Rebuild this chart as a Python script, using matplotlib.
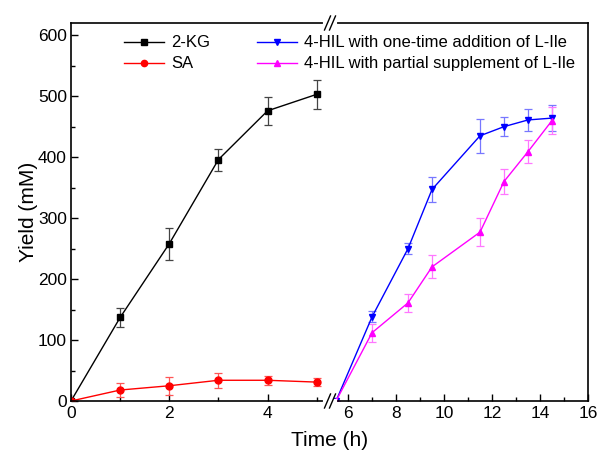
import matplotlib
matplotlib.use('Agg')
import matplotlib.pyplot as plt
from matplotlib.ticker import MultipleLocator
from matplotlib.lines import Line2D

plt.rcParams['font.family'] = ['Liberation Sans', 'DejaVu Sans']

# left segment (0-5 h)
t_left = [0, 1, 2, 3, 4, 5]
kg = [0, 137, 258, 396, 476, 503]
kg_err = [0, 15, 26, 18, 23, 24]
sa = [0, 18, 25, 34, 34, 31]
sa_err = [0, 11, 15, 12, 7, 6]

# right segment (after break)
t_right = [5.5, 7, 8.5, 9.5, 11.5, 12.5, 13.5, 14.5]
hil_once = [0, 138, 250, 347, 435, 450, 461, 464]
hil_once_err = [0, 9, 9, 21, 28, 16, 18, 21]
hil_part = [0, 112, 161, 220, 277, 360, 409, 460]
hil_part_err = [0, 15, 15, 19, 23, 20, 19, 22]

fig = plt.figure(figsize=(5.97, 4.57), dpi=100)
bot, h = 1 - 401 / 457, (401 - 23) / 457
ax1 = fig.add_axes([71 / 597, bot, (329 - 71) / 597, h])
ax2 = fig.add_axes([331 / 597, bot, (588 - 331) / 597, h])

eb = dict(capsize=3, elinewidth=0.9, capthick=0.9, lw=1, ms=5)
ax1.errorbar(t_left, kg, yerr=kg_err, color='black', marker='s', ecolor='#444444', **eb)
ax1.errorbar(t_left, sa, yerr=sa_err, color='red', marker='o', ecolor='#ff5555', **eb)
ax2.errorbar(t_right, hil_once, yerr=hil_once_err, color='blue', marker='v', ecolor='#7777ff', **eb)
ax2.errorbar(t_right, hil_part, yerr=hil_part_err, color='magenta', marker='^', ecolor='#ff77ff', **eb)

for ax in (ax1, ax2):
    ax.set_ylim(0, 620)
    ax.yaxis.set_major_locator(MultipleLocator(100))
    ax.yaxis.set_minor_locator(MultipleLocator(50))
    ax.xaxis.set_major_locator(MultipleLocator(2))
    ax.xaxis.set_minor_locator(MultipleLocator(1))
    ax.tick_params(which='major', direction='in', length=5, width=1, labelsize=12.5)
    ax.tick_params(which='minor', direction='in', length=3, width=1)
    for s in ax.spines.values():
        s.set_linewidth(1.2)

ax1.set_xlim(0, 5.25)
ax2.set_xlim(5.29, 16)
ax1.spines['right'].set_visible(False)
ax2.spines['left'].set_visible(False)
ax2.tick_params(axis='y', which='both', left=False, labelleft=False)
ax1.tick_params(axis='y', pad=3)
ax1.set_ylabel('Yield (mM)', fontsize=15, labelpad=0)
fig.text(329.5 / 597, 1 - 440 / 457, 'Time (h)', ha='center', va='center', fontsize=15)

# break marks
for yb in (23, 401):
    yf = 1 - yb / 457
    fig.add_artist(Line2D([325 / 597, 335 / 597], [yf, yf], color='white', lw=3))
    for dx in (-2.5, 2.5):
        x0 = (330 + dx - 3) / 597
        x1 = (330 + dx + 3) / 597
        fig.add_artist(Line2D([x0, x1], [yf - 7 / 457, yf + 7 / 457], color='black', lw=1))

labels = ['2-KG', 'SA', '4-HIL with one-time addition of L-Ile', '4-HIL with partial supplement of L-Ile']
colors = ['black', 'red', 'blue', 'magenta']
markers = ['s', 'o', 'v', '^']

# fit legend font so the long label is ~263 px wide like the reference
probe = fig.text(0, 0, labels[2], fontsize=12)
fig.canvas.draw()
w = probe.get_window_extent().width
probe.remove()
fs = 12 * 263 / w
px = fs * 100 / 72

handles = [Line2D([], [], color=c, marker=m, lw=1, ms=4.5) for c, m in zip(colors, markers)]
fig.legend(handles, labels, ncol=2, frameon=False,
           loc='upper left', bbox_to_anchor=(116 / 597, 1 - 27 / 457), fontsize=fs,
           handlelength=40 / px, columnspacing=47 / px, labelspacing=0.36, handletextpad=7 / px,
           borderpad=0)

fig.savefig('out.png', dpi=100)
